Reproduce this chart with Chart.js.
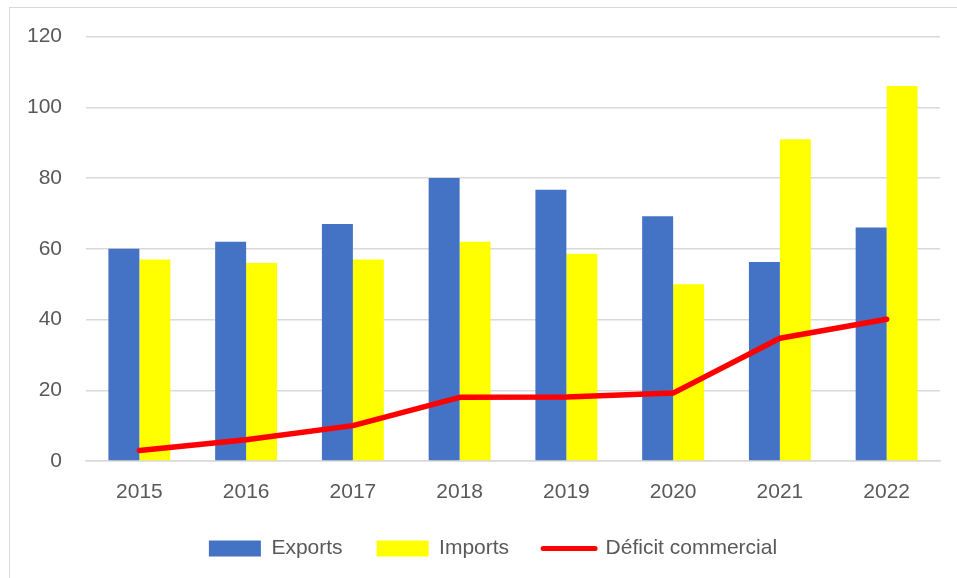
<!DOCTYPE html>
<html>
<head>
<meta charset="utf-8">
<script src="https://cdn.jsdelivr.net/npm/chart.js@4.4.1/dist/chart.umd.min.js"></script>
<style>
  html, body { margin: 0; padding: 0; background: #fff; }
  #wrap { position: relative; width: 957px; height: 578px; overflow: hidden; }
  #frame { position: absolute; left: 9px; top: 7px; width: 1000px; height: 700px; border: 1px solid #d9d9d9; }
  #chart { position: absolute; left: 0; top: 0; }
</style>
</head>
<body>
<div id="wrap">
  <div id="frame"></div>
  <canvas id="chart" width="957" height="578"></canvas>
</div>
<script>
  // Values (billions)
  const years = ['2015', '2016', '2017', '2018', '2019', '2020', '2021', '2022'];
  const exportsVals = [60, 62, 67, 80, 76.7, 69.2, 56.3, 66];
  const importsVals = [57, 56, 57, 62, 58.6, 50, 91, 106];
  const deficitVals = [3, 6, 10, 18, 18.1, 19.2, 34.7, 40.1];
  const yTicks = [0, 20, 40, 60, 80, 100, 120];

  const TEXT = '#595959';
  const GRID = '#d9d9d9';
  const FONT = { family: '"Liberation Sans", Arial, sans-serif', size: 21 };

  // nudge the legend right like the original, and don't clip the year labels
  const layoutTweaks = {
    id: 'layoutTweaks',
    afterLayout(chart) {
      if (chart.legend) {
        chart.legend.left += 23;
        chart.legend.right += 23;
      }
      if (chart.scales.x) chart.scales.x.bottom = chart.height;
    },
  };

  new Chart(document.getElementById('chart'), {
    data: {
      labels: years,
      datasets: [
        {
          type: 'bar',
          label: 'Exports',
          data: exportsVals,
          backgroundColor: '#4472c4',
          order: 1,
        },
        {
          type: 'bar',
          label: 'Imports',
          data: importsVals,
          backgroundColor: '#ffff00',
          order: 1,
        },
        {
          type: 'line',
          label: 'Déficit commercial',
          data: deficitVals,
          borderColor: '#ff0000',
          backgroundColor: '#ff0000',
          borderWidth: 5.5,
          borderCapStyle: 'round',
          borderJoinStyle: 'round',
          pointRadius: 0,
          tension: 0,
          order: 0,
        },
      ],
    },
    plugins: [layoutTweaks],
    options: {
      responsive: false,
      animation: false,
      events: [],
      categoryPercentage: 0.58,
      barPercentage: 1,
      layout: { padding: { top: 36, right: 17, left: 0, bottom: 9 } },
      plugins: {
        tooltip: { enabled: false },
        legend: {
          position: 'bottom',
          labels: {
            color: TEXT,
            font: FONT,
            usePointStyle: true,
            pointStyleWidth: 52,
            boxHeight: 16,
            padding: 34,
            sort: (a, b) => a.datasetIndex - b.datasetIndex,
            generateLabels: (chart) => chart.data.datasets.map((ds, i) => {
              const isLine = ds.type === 'line';
              return {
                text: ds.label,
                datasetIndex: i,
                fillStyle: ds.backgroundColor,
                strokeStyle: isLine ? ds.borderColor : ds.backgroundColor,
                lineWidth: isLine ? 5 : 0,
                lineCap: 'round',
                pointStyle: isLine ? 'line' : 'rect',
                fontColor: TEXT,
                hidden: false,
              };
            }),
          },
        },
      },
      scales: {
        x: {
          offset: true,
          afterFit: (scale) => { scale.height = 43; },
          grid: { display: false, drawTicks: false },
          border: { display: true, color: GRID, width: 1.5 },
          ticks: { color: TEXT, font: FONT, padding: 19 },
        },
        y: {
          min: 0,
          max: 120,
          afterBuildTicks: (scale) => { scale.ticks = yTicks.map((v) => ({ value: v })); },
          afterFit: (scale) => { scale.width = 86; },
          grid: { color: GRID, lineWidth: 1.5, drawTicks: false },
          border: { display: false },
          ticks: { color: TEXT, font: FONT, padding: 24 },
        },
      },
    },
  });
</script>
</body>
</html>
